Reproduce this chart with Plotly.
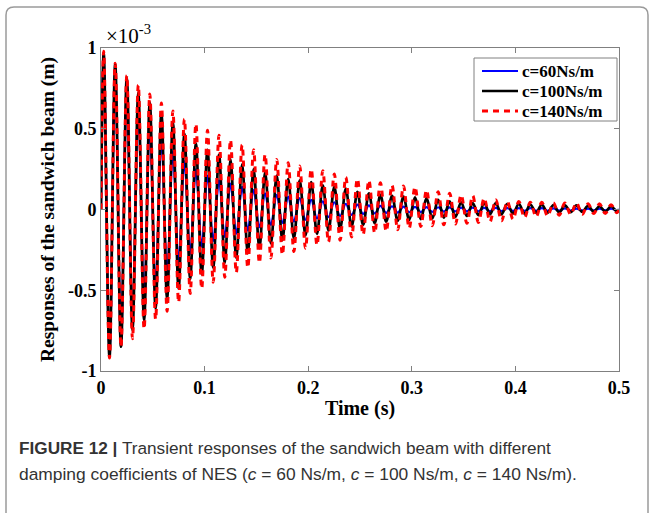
import plotly.graph_objects as go

# Extremum times (s): positive peaks and negative troughs
peak_t = [0.0026, 0.0137, 0.0249, 0.0360, 0.0471, 0.0583, 0.0694, 0.0805, 0.0916, 0.1028,
          0.1139, 0.1250, 0.1362, 0.1473, 0.1584, 0.1696, 0.1807, 0.1918, 0.2029, 0.2141,
          0.2252, 0.2363, 0.2475, 0.2586, 0.2697, 0.2809, 0.2920, 0.3031, 0.3142, 0.3254,
          0.3365, 0.3476, 0.3588, 0.3699, 0.3810, 0.3922, 0.4033, 0.4144, 0.4255, 0.4367,
          0.4478, 0.4589, 0.4701, 0.4812, 0.4923]
trough_t = [0.0082, 0.0193, 0.0304, 0.0416, 0.0527, 0.0638, 0.0749, 0.0861, 0.0972, 0.1083,
            0.1195, 0.1306, 0.1417, 0.1529, 0.1640, 0.1751, 0.1862, 0.1974, 0.2085, 0.2196,
            0.2308, 0.2419, 0.2530, 0.2642, 0.2753, 0.2864, 0.2975, 0.3087, 0.3198, 0.3309,
            0.3421, 0.3532, 0.3643, 0.3755, 0.3866, 0.3977, 0.4088, 0.4200, 0.4311, 0.4422,
            0.4534, 0.4645, 0.4756, 0.4868, 0.4979]
start_t, end_t = 0.0, 0.5
start_v, end_v = 0.0, 0.0

# Responses (x 1e-3 m)
c60_peaks = [0.96, 0.86, 0.74, 0.62, 0.52, 0.44, 0.36, 0.30, 0.25, 0.21, 0.18, 0.16, 0.14, 0.12, 0.10,
             0.09, 0.08, 0.07, 0.06, 0.05, 0.045, 0.035, 0.03, 0.025, 0.022, 0.02, 0.018, 0.016, 0.015,
             0.014, 0.013, 0.012, 0.011, 0.01, 0.01, 0.009, 0.009, 0.008, 0.008, 0.007, 0.007, 0.006,
             0.006, 0.005, 0.005]
c60_troughs = [-0.91, -0.80, -0.68, -0.57, -0.48, -0.40, -0.33, -0.275, -0.23, -0.195, -0.17, -0.15,
               -0.13, -0.11, -0.095, -0.085, -0.075, -0.065, -0.055, -0.048, -0.04, -0.033, -0.028,
               -0.024, -0.021, -0.019, -0.017, -0.016, -0.015, -0.013, -0.012, -0.011, -0.011, -0.01,
               -0.01, -0.009, -0.009, -0.008, -0.008, -0.007, -0.007, -0.006, -0.006, -0.005, -0.005]
c100_peaks = [0.97, 0.90, 0.82, 0.725, 0.665, 0.60, 0.54, 0.47, 0.41, 0.37, 0.34, 0.31, 0.28, 0.25,
              0.23, 0.21, 0.19, 0.18, 0.17, 0.15, 0.14, 0.13, 0.11, 0.10, 0.09, 0.085, 0.08, 0.075,
              0.07, 0.06, 0.05, 0.045, 0.04, 0.04, 0.04, 0.035, 0.035, 0.03, 0.03, 0.028, 0.025,
              0.025, 0.022, 0.02, 0.02]
c100_troughs = [-0.915, -0.85, -0.75, -0.69, -0.615, -0.555, -0.49, -0.43, -0.40, -0.36, -0.33, -0.30,
                -0.27, -0.24, -0.21, -0.19, -0.18, -0.16, -0.15, -0.13, -0.12, -0.105, -0.095, -0.085,
                -0.075, -0.07, -0.065, -0.06, -0.055, -0.05, -0.045, -0.04, -0.035, -0.03, -0.03,
                -0.025, -0.025, -0.02, -0.02, -0.018, -0.016, -0.015, -0.014, -0.013, -0.012]
c140_peaks = [0.98, 0.905, 0.83, 0.77, 0.715, 0.66, 0.61, 0.56, 0.53, 0.49, 0.46, 0.43, 0.40, 0.37,
              0.34, 0.31, 0.29, 0.27, 0.25, 0.24, 0.22, 0.20, 0.19, 0.18, 0.165, 0.15, 0.145, 0.14,
              0.12, 0.11, 0.10, 0.09, 0.085, 0.07, 0.06, 0.05, 0.05, 0.045, 0.045, 0.04, 0.04, 0.04,
              0.035, 0.035, 0.03]
c140_troughs = [-0.92, -0.85, -0.80, -0.74, -0.68, -0.63, -0.575, -0.52, -0.49, -0.45, -0.42, -0.39,
                -0.36, -0.33, -0.30, -0.28, -0.26, -0.24, -0.22, -0.20, -0.19, -0.17, -0.155, -0.145,
                -0.135, -0.125, -0.115, -0.105, -0.10, -0.095, -0.09, -0.085, -0.08, -0.075, -0.07,
                -0.06, -0.05, -0.045, -0.04, -0.035, -0.03, -0.03, -0.025, -0.025, -0.02]

series_names = ["c=60Ns/m", "c=100Ns/m", "c=140Ns/m"]
x_ticks = [0, 0.1, 0.2, 0.3, 0.4, 0.5]
x_ticktext = ["0", "0.1", "0.2", "0.3", "0.4", "0.5"]
y_ticks = [-1, -0.5, 0, 0.5, 1]
y_ticktext = ["-1", "-0.5", "0", "0.5", "1"]


def interleave(peaks, troughs):
    t = [start_t]
    v = [start_v]
    for tp, vp, tt, vt in zip(peak_t, peaks, trough_t, troughs):
        t += [tp, tt]
        v += [vp, vt]
    t.append(end_t)
    v.append(end_v)
    return t, v


W, H = 655, 513
L, R, T, B = 101, 36, 48, 142
PW, PH = W - L - R, H - T - B


def px(x):
    return (x - L) / PW


def py(y):
    return (H - B - y) / PH


SERIF = "Liberation Serif, Times New Roman, serif"
SANS = "Liberation Sans, Arial, sans-serif"

fig = go.Figure()
line_styles = [
    dict(color="#0000ff", width=2.2),
    dict(color="#000000", width=2.7),
    dict(color="#ff0000", width=3, dash="6px,5px"),
]
series = [(c60_peaks, c60_troughs), (c100_peaks, c100_troughs), (c140_peaks, c140_troughs)]
for name, (pk, tr), ln in zip(series_names, series, line_styles):
    t, v = interleave(pk, tr)
    fig.add_trace(go.Scatter(x=t, y=v, mode="lines", name=name, showlegend=False,
                             line=dict(shape="spline", smoothing=1, **ln)))

axis_common = dict(showgrid=False, zeroline=False, showline=True, mirror="ticks",
                   linecolor="#808080", linewidth=1, ticks="inside", ticklen=5,
                   tickcolor="#808080", tickwidth=1,
                   tickfont=dict(family=SERIF, size=18, color="#000", weight="bold"))

fig.update_xaxes(range=[0, 0.5], tickvals=x_ticks, ticktext=x_ticktext,
                 title=dict(text="Time (s)", font=dict(family=SERIF, size=20, color="#000", weight="bold"),
                            standoff=4),
                 **axis_common)
fig.update_yaxes(range=[-1, 1], tickvals=y_ticks, ticktext=y_ticktext,
                 title=dict(text="Responses of the sandwich beam (m)",
                            font=dict(family=SERIF, size=19.5, color="#000", weight="bold"), standoff=8),
                 **axis_common)

# rounded figure frame
r = 8
x0, x1, y0, y1 = 6, 648, 7, 530
path = (f"M {px(x0 + r)},{py(y0)} L {px(x1 - r)},{py(y0)} Q {px(x1)},{py(y0)} {px(x1)},{py(y0 + r)} "
        f"L {px(x1)},{py(y1 - r)} Q {px(x1)},{py(y1)} {px(x1 - r)},{py(y1)} "
        f"L {px(x0 + r)},{py(y1)} Q {px(x0)},{py(y1)} {px(x0)},{py(y1 - r)} "
        f"L {px(x0)},{py(y0 + r)} Q {px(x0)},{py(y0)} {px(x0 + r)},{py(y0)} Z")
fig.add_shape(type="path", path=path, xref="paper", yref="paper",
              line=dict(color="#9a9a9a", width=1.5), layer="below")

# legend box (drawn manually to match the compact MATLAB legend)
fig.add_shape(type="rect", xref="paper", yref="paper",
              x0=px(474), x1=px(617), y0=py(58), y1=py(121),
              line=dict(color="#808080", width=1), fillcolor="white", layer="above")
for i, (name, ln) in enumerate(zip(series_names, line_styles)):
    yy = 71 + 20 * i
    sample = dict(color=ln["color"], width=ln["width"])
    if "dash" in ln:
        sample["dash"] = ln["dash"]
    fig.add_shape(type="line", xref="paper", yref="paper",
                  x0=px(482), x1=px(518), y0=py(yy), y1=py(yy), line=sample, layer="above")
    fig.add_annotation(text=name, x=px(520), y=py(yy), xref="paper", yref="paper",
                       xanchor="left", yanchor="middle", showarrow=False,
                       font=dict(family=SERIF, size=17, color="#000", weight="bold"))

fig.add_annotation(text="×10<sup>-3</sup>", x=px(104), y=py(35), xref="paper", yref="paper",
                   xanchor="left", yanchor="middle", showarrow=False,
                   font=dict(family=SERIF, size=21, color="#000"))

fig.add_annotation(text="<b>FIGURE 12 |</b> Transient responses of the sandwich beam with different",
                   x=px(17), y=py(448), xref="paper", yref="paper", xanchor="left", yanchor="middle",
                   showarrow=False, font=dict(family=SANS, size=17.2, color="#333"))
fig.add_annotation(text="damping coefficients of NES (<i>c</i> = 60 Ns/m, <i>c</i> = 100 Ns/m, <i>c</i> = 140 Ns/m).",
                   x=px(17), y=py(474), xref="paper", yref="paper", xanchor="left", yanchor="middle",
                   showarrow=False, font=dict(family=SANS, size=17.4, color="#333"))

fig.update_layout(
    width=W, height=H, margin=dict(l=L, r=R, t=T, b=B),
    paper_bgcolor="white", plot_bgcolor="white",
    showlegend=False,
)

fig.write_html("out.html", config={"displayModeBar": False},
               post_script="document.body.style.margin='0';document.body.style.padding='0';")
